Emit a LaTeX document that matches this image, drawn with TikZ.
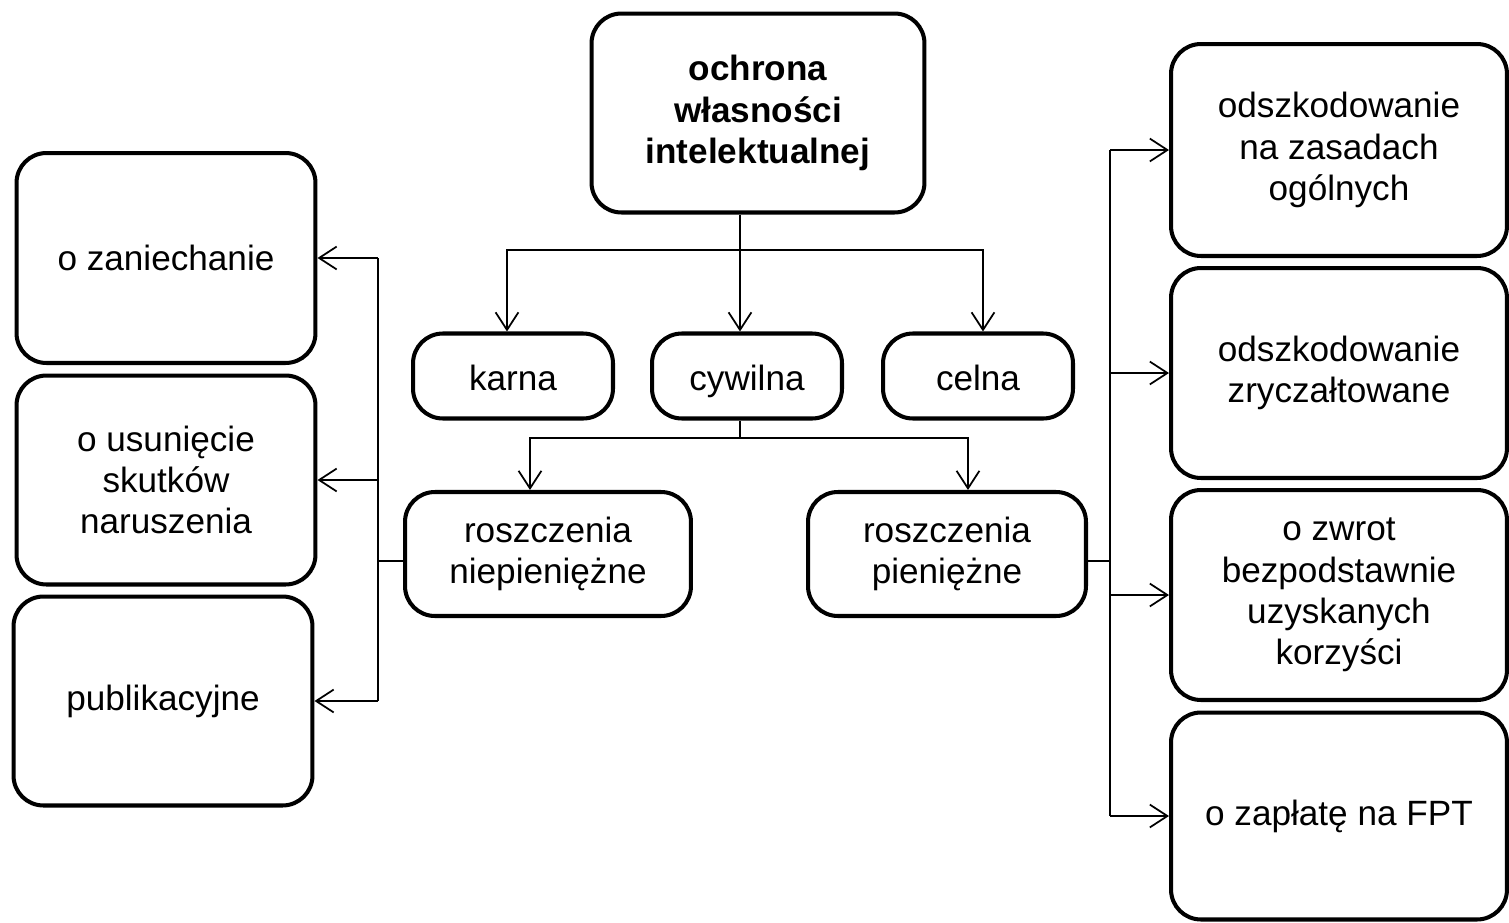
\documentclass[tikz,border=0pt]{standalone}
\usepackage{fontspec}
\setmainfont{Liberation Sans}
\usetikzlibrary{arrows.meta}

\begin{document}
\begin{tikzpicture}[x=0.02cm, y=-0.02cm,
    >={Straight Barb[length=10pt, width=13pt, line width=1pt]},
    blok/.style={draw, rectangle, rounded corners=17pt, line width=2.3pt, align=center,
        inner sep=0pt, font=\fontsize{20}{23.5}\selectfont},
    blokmaly/.style={blok, minimum height=1.7cm, text height=18pt, text depth=1pt},
    laczenie/.style={line width=1.1pt}]

\useasboundingbox (0,0) rectangle (1509,923);

% main node
\node[blok, minimum width=6.66cm, minimum height=3.98cm, font=\fontsize{20}{23.5}\selectfont\bfseries] (top) at (758,113)
    {ochrona\\własności\\intelektualnej};

% second level
\node[blokmaly, minimum width=4cm] (karna) at (513,376) {karna};
\node[blokmaly, minimum width=3.8cm] (cywilna) at (747,376) {cywilna};
\node[blokmaly, minimum width=3.8cm] (celna) at (978,376) {celna};

% claims
\node[blok, minimum width=5.72cm, minimum height=2.48cm] (niepien) at (548,554) {roszczenia\\niepieniężne};
\node[blok, minimum width=5.56cm, minimum height=2.48cm] (pien) at (947,554) {roszczenia\\pieniężne};

% left column
\node[blok, minimum width=5.98cm, minimum height=4.2cm] (zaniech) at (166,258) {o zaniechanie};
\node[blok, minimum width=5.98cm, minimum height=4.18cm] (usun) at (166,480) {o usunięcie\\skutków\\naruszenia};
\node[blok, minimum width=5.98cm, minimum height=4.18cm] (publik) at (163,701) {publikacyjne};

% right column
\node[blok, minimum width=6.72cm, minimum height=4.24cm] (odszog) at (1339,150) {odszkodowanie\\na zasadach\\ogólnych};
\node[blok, minimum width=6.72cm, minimum height=4.2cm] (odszry) at (1339,373) {odszkodowanie\\zryczałtowane};
\node[blok, minimum width=6.72cm, minimum height=4.2cm] (zwrot) at (1339,595) {o zwrot\\bezpodstawnie\\uzyskanych\\korzyści};
\node[blok, minimum width=6.72cm, minimum height=4.14cm] (fpt) at (1339,816) {o zapłatę na FPT};

% top -> karna, cywilna, celna
\coordinate (t1) at (740,250);
\draw[laczenie] (top.south -| t1) -- (t1);
\draw[laczenie, ->] (t1) -| ([xshift=-0.12cm]karna.north);
\draw[laczenie, ->] (t1) -- (t1 |- cywilna.north);
\draw[laczenie, ->] (t1) -| ([xshift=0.1cm]celna.north);

% cywilna -> roszczenia
\coordinate (t2) at (740,438);
\draw[laczenie] (cywilna.south -| t2) -- (t2);
\draw[laczenie, ->] (t2) -| ([xshift=-0.36cm]niepien.north);
\draw[laczenie, ->] (t2) -| ([xshift=0.42cm]pien.north);

% niepieniezne -> left column
\coordinate (l1) at (378,561);
\draw[laczenie] (niepien.west |- l1) -- (l1);
\draw[laczenie] (l1 |- zaniech.east) -- (l1 |- publik.east);
\foreach \n in {zaniech, usun, publik}
    \draw[laczenie, ->] (l1 |- \n.east) -- (\n.east);

% pieniezne -> right column
\coordinate (r1) at (1110,561);
\draw[laczenie] (pien.east |- r1) -- (r1);
\draw[laczenie] (r1 |- odszog.west) -- (r1 |- fpt.west);
\foreach \n in {odszog, odszry, zwrot, fpt}
    \draw[laczenie, ->] (r1 |- \n.west) -- (\n.west);
\end{tikzpicture}
\end{document}
